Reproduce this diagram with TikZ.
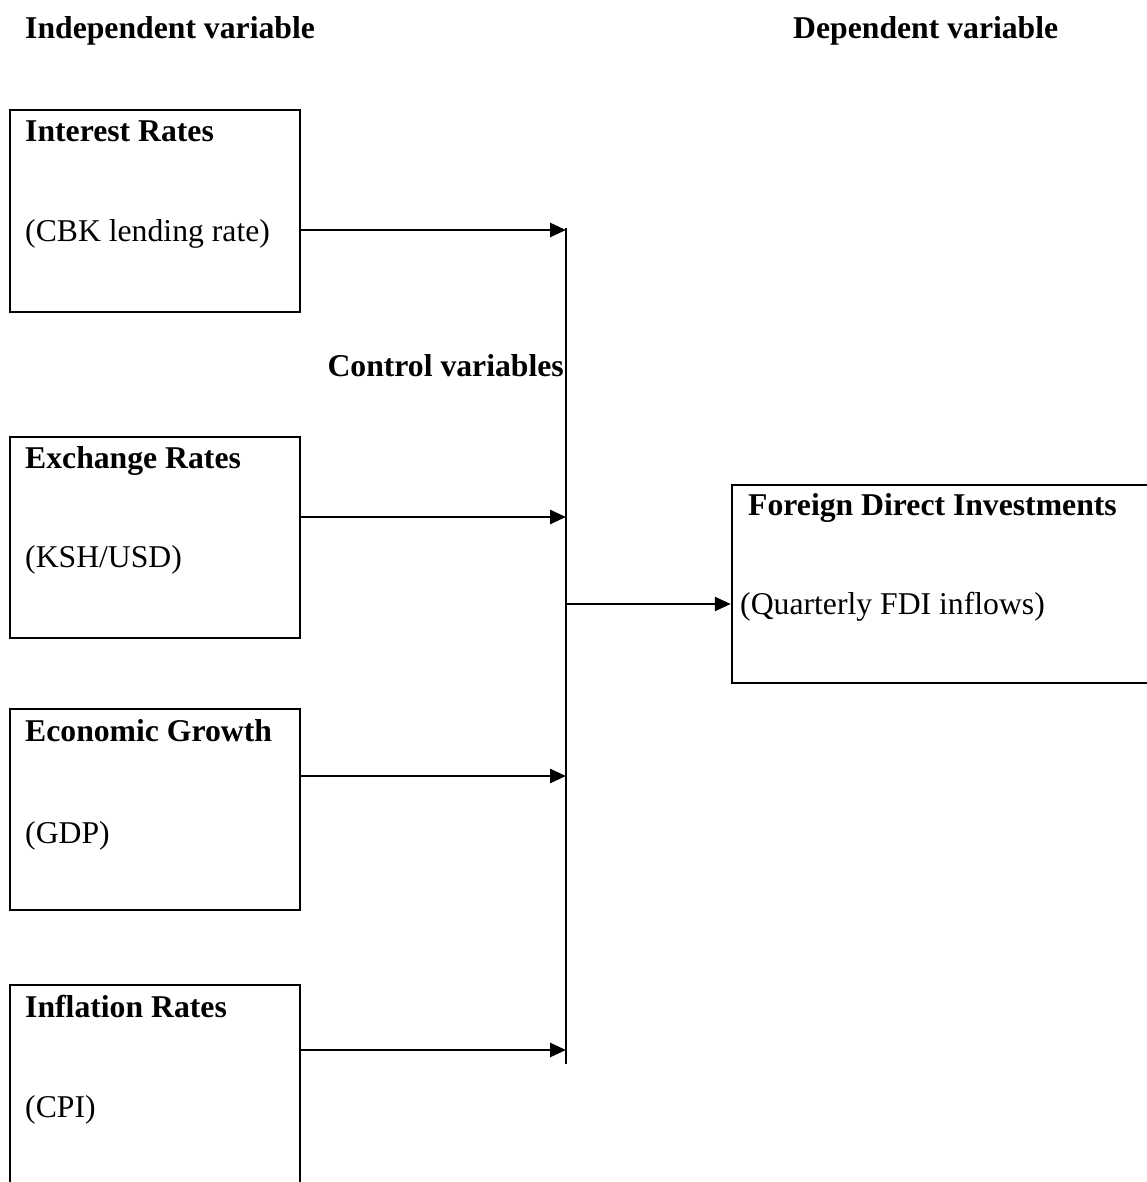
\documentclass[tikz,border=0pt]{standalone}
\usepackage{fontspec}
\setmainfont{Liberation Serif}
\usetikzlibrary{arrows.meta}
\begin{document}
\begin{tikzpicture}[x=1pt,y=-1pt,
  varbox/.style={draw,line width=2.4pt,rectangle,inner sep=0pt},
  txt/.style={anchor=base west,inner sep=0pt,font=\fontsize{31.7}{36}\selectfont},
  btxt/.style={txt,font=\fontsize{31.7}{36}\selectfont\bfseries},
  conn/.style={line width=2.6pt,-{Triangle[length=16pt,width=14pt]}}]
\useasboundingbox (0,0) rectangle (1146,1182);
% headers
\node[btxt] (hind) at (25,39) {Independent variable};
\node[btxt] (hdep) at (793,39) {Dependent variable};
% boxes
\node[varbox,minimum width=290pt,minimum height=202pt] (b1) at (155,211) {};
\node[varbox,minimum width=290pt,minimum height=201pt] (b2) at (155,537.5) {};
\node[varbox,minimum width=290pt,minimum height=201pt] (b3) at (155,809.5) {};
\node[varbox,minimum width=290pt,minimum height=220pt] (b4) at (155,1095) {};
\node[varbox,minimum width=420pt,minimum height=198pt] (fdi) at (942,584) {};
% texts
\node[btxt] (t1a) at (25,142) {Interest Rates};
\node[txt] (t1b) at (25,242) {(CBK lending rate)};
\node[btxt] (t2a) at (25,468) {Exchange Rates};
\node[txt] (t2b) at (25,567) {(KSH/USD)};
\node[btxt] (t3a) at (25,741) {Economic Growth};
\node[txt] (t3b) at (25,843) {(GDP)};
\node[btxt] (t4a) at (25,1017) {Inflation Rates};
\node[txt] (t4b) at (25,1117) {(CPI)};
\node[btxt] (tfa) at (748,515) {Foreign Direct Investments};
\node[txt] (tfb) at (740,614) {(Quarterly FDI inflows)};
\node[btxt,anchor=base east] (ctrl) at (564,376) {Control variables};
% connectors
\coordinate (vtop) at (566,228);
\coordinate (vbot) at (566,1064);
\coordinate (j1) at (566,230);
\coordinate (j2) at (566,517);
\coordinate (j3) at (566,776);
\coordinate (j4) at (566,1050);
\coordinate (jf) at (566,604);
\draw[line width=1.8pt] (vtop) -- (vbot);
\draw[conn] (b1.east |- j1) -- (j1);
\draw[conn] (b2.east |- j2) -- (j2);
\draw[conn] (b3.east |- j3) -- (j3);
\draw[conn] (b4.east |- j4) -- (j4);
\draw[conn] (jf) -- (fdi.west |- jf);
\end{tikzpicture}
\end{document}
